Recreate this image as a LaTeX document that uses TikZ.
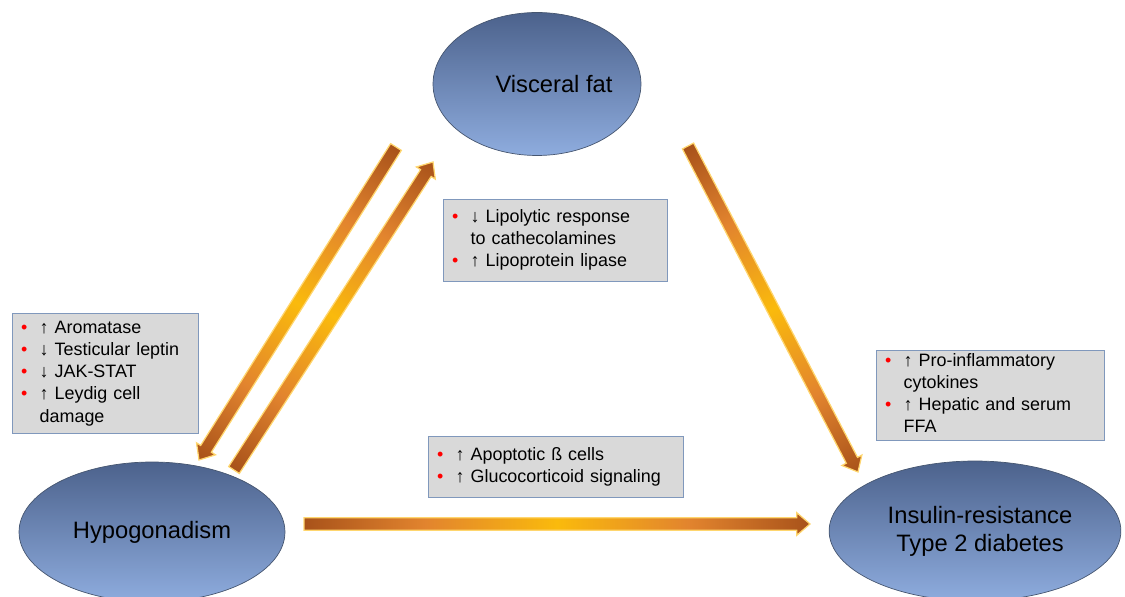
\documentclass[tikz,border=0pt]{standalone}
\usepackage{fontspec}
\setmainfont{Liberation Sans}
\usetikzlibrary{calc,shapes.geometric}

\definecolor{arrbrown}{RGB}{168,82,26}
\definecolor{arrorange}{RGB}{226,132,46}
\definecolor{arrgold}{RGB}{250,186,12}
\definecolor{arrglow}{RGB}{255,214,110}
\definecolor{blobtop}{RGB}{76,98,140}
\definecolor{blobbot}{RGB}{142,172,222}
\definecolor{blobedge}{RGB}{70,86,112}
\definecolor{boxfill}{RGB}{217,217,217}
\definecolor{boxedge}{RGB}{128,152,188}

\pgfdeclarehorizontalshading{fatshade}{100bp}{color(0bp)=(arrbrown); color(25bp)=(arrbrown); color(37bp)=(arrorange); color(50bp)=(arrgold); color(63bp)=(arrorange); color(75bp)=(arrbrown); color(100bp)=(arrbrown)}

\tikzset{
  blob/.style={ellipse, draw=blobedge, thin, top color=blobtop, bottom color=blobbot, font=\fontsize{13.5}{16}\selectfont, align=center},
  blobtext/.style={font=\fontsize{13.5}{16}\selectfont},
  infobox/.style={draw=boxedge, fill=boxfill, anchor=north west, inner xsep=5pt, inner ysep=0pt, font=\fontsize{10.2}{12.6}\selectfont, align=left},
  fatarr/.style={shading=fatshade, draw=arrglow, line width=0.7pt}
}

\newcommand{\rdot}{\textcolor{red}{\textbullet}}

% thick shaded arrow between two named points
\newcommand{\fatarrow}[2]{%
  \path let \p1=(#1), \p2=(#2) in \pgfextra{%
    \pgfmathsetmacro{\farang}{atan2(\y2-\y1,\x2-\x1)}%
    \pgfmathsetmacro{\farlen}{veclen(\x2-\x1,\y2-\y1)}%
    \pgfmathsetmacro{\farx}{\x1}\pgfmathsetmacro{\fary}{\y1}%
    \xdef\farang{\farang}\xdef\farlen{\farlen}\xdef\farx{\farx}\xdef\fary{\fary}};
  \begin{scope}[transform canvas={shift={(\farx pt,\fary pt)},rotate=\farang}]
    \shade[fatarr] (0pt,-3.6pt) -- (\farlen pt-7.5pt,-3.6pt) -- (\farlen pt-7.5pt,-6.4pt)
      -- (\farlen pt,0pt) -- (\farlen pt-7.5pt,6.4pt) -- (\farlen pt-7.5pt,3.6pt) -- (0pt,3.6pt) -- cycle;
  \end{scope}}

\begin{document}
\begin{tikzpicture}[x=0.02cm,y=-0.02cm]
\useasboundingbox (0,0) rectangle (1125,597);

% the three states
\node[blob, minimum width=4.16cm, minimum height=2.86cm,
  label={[blobtext, xshift=0.34cm]center:Visceral fat}] (visc) at (537,84) {};
\node[blob, minimum width=5.32cm, minimum height=2.8cm] (hypo) at (152,532) {Hypogonadism};
\node[blob, minimum width=5.8cm, minimum height=2.8cm] (insu) at (975,531) {\hspace*{0.2cm}Insulin-resistance\\\hspace*{0.2cm}Type 2 diabetes};

% arrow ends
\coordinate (vh-s) at (396,147);
\coordinate (vh-e) at (199,460);
\coordinate (hv-s) at (234,470);
\coordinate (hv-e) at (433,162);
\coordinate (vi-s) at (688,146);
\coordinate (vi-e) at (858,472);
\coordinate (hi-s) at (304,524);
\coordinate (hi-e) at (810,524);

\fatarrow{vh-s}{vh-e}
\fatarrow{hv-s}{hv-e}
\fatarrow{vi-s}{vi-e}
\fatarrow{hi-s}{hi-e}

% mechanisms
\node[infobox, text width=3.37cm, minimum height=2.4cm] (leftbox) at (12,313) {\noindent\begin{tabular}{@{}l@{\hspace{7pt}}l@{}}
\rdot & ↑ Aromatase\\
\rdot & ↓ Testicular leptin\\
\rdot & ↓ JAK-STAT\\
\rdot & ↑ Leydig cell\\
 & damage
\end{tabular}};
\node[infobox, text width=4.13cm, minimum height=1.64cm] (topbox) at (443,199) {\noindent\begin{tabular}{@{}l@{\hspace{7pt}}l@{}}
\rdot & ↓ Lipolytic response\\
 & to cathecolamines\\
\rdot & ↑ Lipoprotein lipase
\end{tabular}};
\node[infobox, text width=4.75cm, minimum height=1.22cm] (botbox) at (428,436) {\noindent\begin{tabular}{@{}l@{\hspace{7pt}}l@{}}
\rdot & ↑ Apoptotic ß cells\\
\rdot & ↑ Glucocorticoid signaling
\end{tabular}};
\node[infobox, text width=4.21cm, minimum height=1.8cm] (rightbox) at (876,350) {\noindent\begin{tabular}{@{}l@{\hspace{7pt}}l@{}}
\rdot & ↑ Pro-inflammatory\\
 & cytokines\\
\rdot & ↑ Hepatic and serum\\
 & FFA
\end{tabular}};
\end{tikzpicture}
\end{document}
